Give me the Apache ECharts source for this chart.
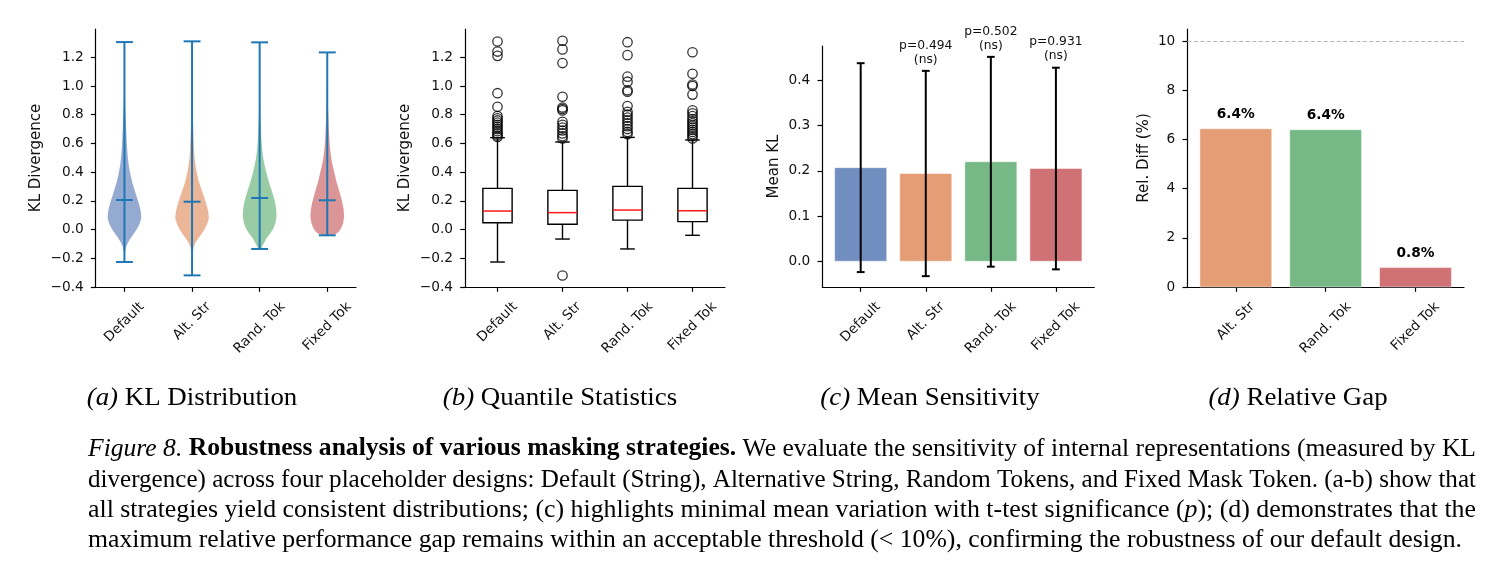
<!DOCTYPE html>
<html>
<head>
<meta charset="utf-8">
<script src="https://cdn.jsdelivr.net/npm/echarts@6/dist/echarts.min.js"></script>
<style>
  html, body { margin: 0; padding: 0; background: #fff; }
  #chart { width: 1492px; height: 570px; }
</style>
</head>
<body>
<div id="chart"></div>
<script>
const strategies = ['Default', 'Alt. Str', 'Rand. Tok', 'Fixed Tok'];
const gapCategories = ['Alt. Str', 'Rand. Tok', 'Fixed Tok'];

// (a) violin: extrema, means and the estimated density profile [value, relative width]
const violinMin = [-0.226, -0.319, -0.135, -0.040];
const violinMax = [1.306, 1.311, 1.304, 1.234];
const violinMean = [0.206, 0.194, 0.220, 0.204];
const kdeDefault = [[-0.226, 0], [-0.19, 0.01], [-0.16, 0.03], [-0.12, 0.1], [-0.09, 0.21], [-0.06, 0.36], [-0.03, 0.54], [0.0, 0.72], [0.04, 0.9], [0.08, 1.0], [0.13, 0.96], [0.18, 0.86], [0.23, 0.72], [0.275, 0.6], [0.33, 0.46], [0.39, 0.34], [0.45, 0.25], [0.5, 0.2], [0.56, 0.16], [0.62, 0.13], [0.7, 0.1], [0.78, 0.075], [0.86, 0.045], [0.95, 0.025], [1.05, 0.013], [1.2, 0.005], [1.306, 0]];
const kdeAltStr = [[-0.319, 0], [-0.25, 0.005], [-0.18, 0.025], [-0.12, 0.1], [-0.09, 0.21], [-0.06, 0.37], [-0.03, 0.56], [0.0, 0.73], [0.04, 0.9], [0.08, 1.0], [0.13, 0.95], [0.18, 0.84], [0.23, 0.7], [0.275, 0.57], [0.33, 0.41], [0.39, 0.29], [0.45, 0.2], [0.5, 0.15], [0.56, 0.12], [0.62, 0.1], [0.7, 0.075], [0.78, 0.05], [0.86, 0.03], [0.95, 0.018], [1.05, 0.01], [1.2, 0.004], [1.311, 0]];
const kdeRandTok = [[-0.135, 0.06], [-0.12, 0.14], [-0.09, 0.27], [-0.06, 0.41], [-0.03, 0.6], [0.0, 0.78], [0.04, 0.92], [0.09, 1.0], [0.14, 0.98], [0.183, 0.92], [0.23, 0.82], [0.275, 0.7], [0.33, 0.55], [0.39, 0.41], [0.45, 0.29], [0.5, 0.21], [0.56, 0.15], [0.62, 0.11], [0.7, 0.075], [0.78, 0.048], [0.86, 0.03], [0.95, 0.02], [1.05, 0.012], [1.2, 0.005], [1.304, 0]];
const kdeFixedTok = [[-0.04, 0.25], [-0.03, 0.5], [-0.015, 0.68], [0.0, 0.78], [0.04, 0.93], [0.09, 1.0], [0.14, 0.97], [0.183, 0.9], [0.23, 0.8], [0.275, 0.69], [0.33, 0.55], [0.39, 0.43], [0.45, 0.31], [0.5, 0.23], [0.56, 0.17], [0.62, 0.13], [0.7, 0.095], [0.78, 0.068], [0.86, 0.042], [0.95, 0.025], [1.05, 0.013], [1.15, 0.006], [1.234, 0]];

// (b) box plot
const boxQ1 = [0.048, 0.037, 0.066, 0.055];
const boxMedian = [0.129, 0.118, 0.136, 0.131];
const boxQ3 = [0.287, 0.273, 0.301, 0.287];
const whiskerLow = [-0.226, -0.066, -0.135, -0.040];
const whiskerHigh = [0.640, 0.610, 0.642, 0.624];
const outliersDefault = [1.31, 1.24, 1.21, 0.95, 0.855, 0.79, 0.775, 0.76, 0.745, 0.73, 0.715, 0.70, 0.685, 0.67, 0.655, 0.645];
const outliersAltStr = [1.315, 1.255, 1.16, 0.925, 0.85, 0.84, 0.83, 0.75, 0.73, 0.71, 0.69, 0.67, 0.65, 0.635, -0.32];
const outliersRandTok = [1.305, 1.215, 1.065, 1.03, 0.97, 0.96, 0.86, 0.82, 0.80, 0.78, 0.76, 0.74, 0.72, 0.70, 0.68, 0.665];
const outliersFixedTok = [1.235, 1.085, 1.01, 1.0, 0.94, 0.83, 0.81, 0.79, 0.77, 0.755, 0.74, 0.725, 0.71, 0.695, 0.68, 0.665, 0.65, 0.635];

// (c) mean sensitivity
const meanKL = [0.207, 0.194, 0.220, 0.205];
const stdKL = [0.231, 0.227, 0.232, 0.223];
const pValues = [null, 0.494, 0.502, 0.931];

// (d) relative gap
const relDiff = [6.44, 6.40, 0.79];
const threshold = 10;

// ticks
const yTicksKL = [-0.4, -0.2, 0, 0.2, 0.4, 0.6, 0.8, 1.0, 1.2];
const yTicksMean = [0, 0.1, 0.2, 0.3, 0.4];
const yTicksGap = [0, 2, 4, 6, 8, 10];

const palette = ['#4C72B0', '#DD8452', '#55A868', '#C44E52'];
const violinLine = '#1f77b4';
const FONT = 'DejaVu Sans';
const TICK_FS = 13.7;

const kdeProfiles = [kdeDefault, kdeAltStr, kdeRandTok, kdeFixedTok];
const outlierSets = [outliersDefault, outliersAltStr, outliersRandTok, outliersFixedTok];
const pos4 = [1, 2, 3, 4];
const pos0 = [0, 1, 2, 3];
const posGap = [0, 1, 2];

const ctx = document.createElement('canvas').getContext('2d');
function textWidth(str, font) {
    ctx.font = font;
    return ctx.measureText(str).width;
}

const fmtSigned = v => (v < 0 ? '\u2212' : '') + Math.abs(v).toFixed(1);

function xAxis(idx, min, max, ticks) {
    return {
        type: 'value', gridIndex: idx, min, max,
        axisLine: { onZero: false, lineStyle: { color: '#000', width: 1.2 } },
        axisTick: { show: true, customValues: ticks, length: 4.8, lineStyle: { color: '#000', width: 1.2 } },
        axisLabel: { show: false },
        splitLine: { show: false },
    };
}

function yAxis(idx, min, max, ticks, fmt, name, gap) {
    return {
        type: 'value', gridIndex: idx, min, max,
        name, nameLocation: 'middle', nameGap: gap,
        nameTextStyle: { fontFamily: FONT, fontSize: 15, color: '#111' },
        axisLine: { show: true, onZero: false, lineStyle: { color: '#000', width: 1.2 } },
        axisTick: { show: true, customValues: ticks, length: 4.8, lineStyle: { color: '#000', width: 1.2 } },
        axisLabel: { customValues: ticks, formatter: fmt, margin: 12, fontFamily: FONT, fontSize: TICK_FS, color: '#111' },
        splitLine: { show: false },
    };
}

// rotated tick labels, centred on the tick like matplotlib's ha='center'
function xLabels(idx, positions, labels, yBottom) {
    const font = TICK_FS + 'px "' + FONT + '"';
    return {
        type: 'custom', xAxisIndex: idx, yAxisIndex: idx, silent: true,
        data: positions.map(p => [p, yBottom]),
        renderItem(params, api) {
            const pt = api.coord([api.value(0), api.value(1)]);
            const txt = labels[params.dataIndex];
            const w = textWidth(txt, font);
            const boxH = (w + TICK_FS * 1.15) * Math.SQRT1_2;
            return {
                type: 'text', x: pt[0], y: pt[1] + 12 + boxH / 2, rotation: Math.PI / 4,
                style: { text: txt, x: 0, y: 0, align: 'center', verticalAlign: 'middle', font, fill: '#111' },
            };
        },
    };
}

const seg = (p1, p2, stroke, lw) => ({
    type: 'line', shape: { x1: p1[0], y1: p1[1], x2: p2[0], y2: p2[1] },
    style: { stroke, lineWidth: lw },
});

const violinSeries = {
    type: 'custom', xAxisIndex: 0, yAxisIndex: 0, silent: true,
    data: pos4.map((p, i) => [p, violinMean[i]]),
    renderItem(params, api) {
        const i = params.dataIndex;
        const p = pos4[i];
        const prof = kdeProfiles[i];
        const left = prof.map(([y, d]) => api.coord([p - 0.25 * d, y]));
        const right = prof.slice().reverse().map(([y, d]) => api.coord([p + 0.25 * d, y]));
        const cap = v => seg(api.coord([p - 0.125, v]), api.coord([p + 0.125, v]), violinLine, 2);
        return {
            type: 'group', children: [
                { type: 'polygon', shape: { points: left.concat(right) }, style: { fill: palette[i], opacity: 0.6 } },
                seg(api.coord([p, violinMin[i]]), api.coord([p, violinMax[i]]), violinLine, 2),
                cap(violinMin[i]), cap(violinMax[i]), cap(violinMean[i]),
            ],
        };
    },
};

const boxSeries = {
    type: 'custom', xAxisIndex: 1, yAxisIndex: 1, silent: true,
    data: pos4.map((p, i) => [p, boxMedian[i]]),
    renderItem(params, api) {
        const i = params.dataIndex;
        const p = pos4[i];
        const tl = api.coord([p - 0.225, boxQ3[i]]);
        const br = api.coord([p + 0.225, boxQ1[i]]);
        const cap = v => seg(api.coord([p - 0.1125, v]), api.coord([p + 0.1125, v]), '#000', 1.4);
        return {
            type: 'group', children: [
                seg(api.coord([p, boxQ3[i]]), api.coord([p, whiskerHigh[i]]), '#000', 1.4),
                seg(api.coord([p, boxQ1[i]]), api.coord([p, whiskerLow[i]]), '#000', 1.4),
                cap(whiskerHigh[i]), cap(whiskerLow[i]),
                { type: 'rect', shape: { x: tl[0], y: tl[1], width: br[0] - tl[0], height: br[1] - tl[1] },
                  style: { fill: 'none', stroke: '#000', lineWidth: 1.4 } },
                seg(api.coord([p - 0.225, boxMedian[i]]), api.coord([p + 0.225, boxMedian[i]]), '#ff1a1a', 1.5),
            ],
        };
    },
};

const outlierSeries = {
    type: 'scatter', xAxisIndex: 1, yAxisIndex: 1, silent: true,
    symbol: 'circle', symbolSize: 9.4,
    itemStyle: { color: 'rgba(0,0,0,0)', borderColor: '#000', borderWidth: 1.3 },
    data: outlierSets.flatMap((set, i) => set.map(v => [pos4[i], v])),
};

const meanSeries = {
    type: 'custom', xAxisIndex: 2, yAxisIndex: 2, silent: true,
    data: pos0.map((p, i) => [p, meanKL[i]]),
    renderItem(params, api) {
        const i = params.dataIndex;
        const p = pos0[i];
        const tl = api.coord([p - 0.4, meanKL[i]]);
        const br = api.coord([p + 0.4, 0]);
        const hi = meanKL[i] + stdKL[i];
        const lo = meanKL[i] - stdKL[i];
        const cap = v => seg(api.coord([p - 0.06, v]), api.coord([p + 0.06, v]), '#000', 2);
        const children = [
            { type: 'rect', shape: { x: tl[0], y: tl[1], width: br[0] - tl[0], height: br[1] - tl[1] },
              style: { fill: palette[i], opacity: 0.8, stroke: '#fff', lineWidth: 0.6 } },
            seg(api.coord([p, lo]), api.coord([p, hi]), '#000', 2),
            cap(lo), cap(hi),
        ];
        if (pValues[i] !== null) {
            const t = api.coord([p, hi + 0.01]);
            children.push({
                type: 'text', x: t[0], y: t[1],
                style: { text: 'p=' + pValues[i].toFixed(3) + '\n(ns)', align: 'center', verticalAlign: 'bottom',
                         fontFamily: FONT, fontSize: 12.3, lineHeight: 14, fill: '#111' },
            });
        }
        return { type: 'group', children };
    },
};

const gapSeries = {
    type: 'custom', xAxisIndex: 3, yAxisIndex: 3, silent: true,
    data: posGap.map((p, i) => [p, relDiff[i]]),
    renderItem(params, api) {
        const i = params.dataIndex;
        const p = posGap[i];
        const tl = api.coord([p - 0.4, relDiff[i]]);
        const br = api.coord([p + 0.4, 0]);
        const t = api.coord([p, relDiff[i] + 0.3]);
        return {
            type: 'group', children: [
                { type: 'rect', shape: { x: tl[0], y: tl[1], width: br[0] - tl[0], height: br[1] - tl[1] },
                  style: { fill: palette[i + 1], opacity: 0.8, stroke: '#fff', lineWidth: 0.6 } },
                { type: 'text', x: t[0], y: t[1],
                  style: { text: relDiff[i].toFixed(1) + '%', align: 'center', verticalAlign: 'bottom',
                           fontFamily: FONT, fontSize: 13.7, fontWeight: 'bold', fill: '#000' } },
            ],
        };
    },
    markLine: {
        silent: true, symbol: 'none', label: { show: false },
        lineStyle: { type: [4, 2.5], color: '#b5b5b5', width: 1 },
        data: [{ yAxis: threshold }],
    },
};

// caption text
const SERIF = 'Liberation Serif';
const CAP_FS = 25;
const capFont = { n: '', it: 'italic ', b: 'bold ' };
const subCaptions = [
    [['it', '(a)'], ['n', ' KL Distribution']],
    [['it', '(b)'], ['n', ' Quantile Statistics']],
    [['it', '(c)'], ['n', ' Mean Sensitivity']],
    [['it', '(d)'], ['n', ' Relative Gap']],
];
const subCaptionX = [192, 560, 930, 1298];
const captionLines = [
    [['it', 'Figure 8.'], ['n', ' '], ['b', 'Robustness analysis of various masking strategies.'], ['n', ' We evaluate the sensitivity of internal representations (measured by KL']],
    [['n', 'divergence) across four placeholder designs: Default (String), Alternative String, Random Tokens, and Fixed Mask Token. (a-b) show that']],
    [['n', 'all strategies yield consistent distributions; (c) highlights minimal mean variation with t-test significance ('], ['it', 'p'], ['n', '); (d) demonstrates that the']],
    [['n', 'maximum relative performance gap remains within an acceptable threshold (< 10%), confirming the robustness of our default design.']],
];
const captionY = [449, 480, 510, 540];
const captionWidths = [1388, 1388, 1388, 1374];

function segWidth(parts) {
    return parts.reduce((s, [k, t]) => s + textWidth(t, capFont[k] + CAP_FS + 'px "' + SERIF + '"'), 0);
}
const richStyles = {
    n: { fontFamily: SERIF, fontSize: CAP_FS, fill: '#000' },
    it: { fontFamily: SERIF, fontSize: CAP_FS, fontStyle: 'italic', fill: '#000' },
    b: { fontFamily: SERIF, fontSize: CAP_FS, fontWeight: 'bold', fill: '#000' },
};
const toRich = parts => parts.map(([k, t]) => '{' + k + '|' + t + '}').join('');
const squeeze = captionWidths[3] / segWidth(captionLines[3]);

const graphics = [];
subCaptions.forEach((parts, i) => {
    graphics.push({
        type: 'text', x: subCaptionX[i], y: 398, scaleX: squeeze * 1.045, scaleY: 1.02, silent: true,
        style: { text: toRich(parts), rich: richStyles, align: 'center', verticalAlign: 'middle',
                 fontFamily: SERIF, fontSize: CAP_FS, fill: '#000' },
    });
});
captionLines.forEach((parts, i) => {
    graphics.push({
        type: 'text', x: 88, y: captionY[i], scaleX: captionWidths[i] / segWidth(parts), silent: true,
        style: { text: toRich(parts), rich: richStyles, align: 'left', verticalAlign: 'middle',
                 fontFamily: SERIF, fontSize: CAP_FS, fill: '#000' },
    });
});

const chart = echarts.init(document.getElementById('chart'), null, { renderer: 'canvas' });
chart.setOption({
    animation: false,
    backgroundColor: '#fff',
    grid: [
        { left: 95.7, top: 29, width: 260.3, height: 258, outerBoundsMode: 'none' },
        { left: 465, top: 29, width: 260, height: 258, outerBoundsMode: 'none' },
        { left: 822.3, top: 46, width: 272, height: 241, outerBoundsMode: 'none' },
        { left: 1187.3, top: 29, width: 276.7, height: 258, outerBoundsMode: 'none' },
    ],
    xAxis: [
        xAxis(0, 0.575, 4.425, pos4),
        xAxis(1, 0.5, 4.5, pos4),
        xAxis(2, -0.59, 3.59, pos0),
        xAxis(3, -0.54, 2.54, posGap),
    ],
    yAxis: [
        yAxis(0, -0.4, 1.397, yTicksKL, fmtSigned, 'KL Divergence', 52),
        yAxis(1, -0.4, 1.397, yTicksKL, fmtSigned, 'KL Divergence', 52),
        yAxis(2, -0.057, 0.476, yTicksMean, v => v.toFixed(1), 'Mean KL', 41),
        yAxis(3, 0, 10.5, yTicksGap, v => String(v), 'Rel. Diff (%)', 36),
    ],
    series: [
        violinSeries,
        boxSeries,
        outlierSeries,
        meanSeries,
        gapSeries,
        xLabels(0, pos4, strategies, -0.4),
        xLabels(1, pos4, strategies, -0.4),
        xLabels(2, pos0, strategies, -0.057),
        xLabels(3, posGap, gapCategories, 0),
    ],
    graphic: graphics,
});
</script>
</body>
</html>
